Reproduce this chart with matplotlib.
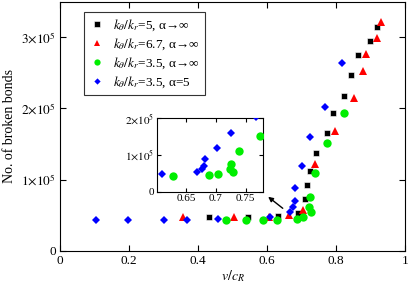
import matplotlib
matplotlib.use("Agg")
import matplotlib.pyplot as plt
from matplotlib.ticker import FuncFormatter

plt.rcParams['font.family'] = ['Liberation Serif', 'DejaVu Serif']
plt.rcParams['mathtext.fontset'] = 'stix'

# Data (v/c_R, number of broken bonds)
black_x = [0.432, 0.545, 0.632, 0.689, 0.709, 0.715, 0.725, 0.742, 0.773, 0.791, 0.822, 0.843, 0.865, 0.898, 0.920]
black_y = [0.469e5, 0.469e5, 0.487e5, 0.534e5, 0.72e5, 0.923e5, 1.12e5, 1.38e5, 1.66e5, 1.93e5, 2.17e5, 2.47e5, 2.758e5, 2.95e5, 3.146e5]

red_x = [0.355, 0.505, 0.607, 0.665, 0.703, 0.739, 0.797, 0.851, 0.879, 0.887, 0.919, 0.932]
red_y = [0.47e5, 0.475e5, 0.475e5, 0.50e5, 0.571e5, 1.213e5, 1.685e5, 2.15e5, 2.52e5, 2.77e5, 2.99e5, 3.216e5]

green_x = [0.481, 0.540, 0.589, 0.628, 0.688, 0.703, 0.728, 0.723, 0.725, 0.739, 0.775, 0.824]
green_y = [0.431e5, 0.431e5, 0.431e5, 0.435e5, 0.445e5, 0.473e5, 0.539e5, 0.618e5, 0.75e5, 1.096e5, 1.517e5, 1.93e5]

blue_x = [0.103, 0.197, 0.302, 0.368, 0.459, 0.609, 0.668, 0.676, 0.680, 0.681, 0.701, 0.726, 0.768, 0.817]
blue_y = [0.431e5, 0.431e5, 0.431e5, 0.431e5, 0.445e5, 0.469e5, 0.539e5, 0.618e5, 0.70e5, 0.885e5, 1.19e5, 1.60e5, 2.02e5, 2.632e5]

labels = [r'$k_\theta/k_r$=5, α→∞', r'$k_\theta/k_r$=6.7, α→∞',
          r'$k_\theta/k_r$=3.5, α→∞', r'$k_\theta/k_r$=3.5, α=5']

main_xticks = [0, 0.2, 0.4, 0.6, 0.8, 1.0]
main_xticklabels = ['0', '0.2', '0.4', '0.6', '0.8', '1']
main_yticks = [0, 1e5, 2e5, 3e5]
inset_xticks = [0.65, 0.7, 0.75]
inset_yticks = [0, 1e5, 2e5]


def sci(v, pos):
    if v == 0:
        return '0'
    m = int(round(v / 1e5))
    return r'$%d{\times}10^{5}$' % m


fig = plt.figure(figsize=(4.09, 2.86), dpi=100)
ax = fig.add_axes([0.147, 0.1234, 0.843, 0.8706])

ms_sq, ms_tri, ms_c, ms_d = 5.0, 5.5, 6.0, 5.0
ax.plot(black_x, black_y, 's', color='black', ms=ms_sq, mec='white', mew=0.4, label=labels[0], zorder=3)
ax.plot(red_x, red_y, '^', color='#ff0000', ms=ms_tri, mec='#ff0000', mew=0, label=labels[1], zorder=3)
ax.plot(green_x, green_y, 'o', color='#00ee00', ms=ms_c, mec='#00ee00', mew=0, label=labels[2], zorder=3)
ax.plot(blue_x, blue_y, 'D', color='#0000ff', ms=ms_d * 0.85, mec='#0000ff', mew=0, label=labels[3], zorder=4)

ax.set_xlim(0, 1)
ax.set_ylim(0, 3.5e5)
ax.set_xticks(main_xticks)
ax.set_xticklabels(main_xticklabels)
ax.set_yticks(main_yticks)
ax.yaxis.set_major_formatter(FuncFormatter(sci))
ax.tick_params(direction='in', top=True, right=True, length=4, labelsize=9.5, pad=3)
ax.set_xlabel(r'$v/c_R$', fontsize=10, labelpad=1)
ax.set_ylabel('No. of broken bonds', fontsize=10, labelpad=4)

leg = ax.legend(loc='upper left', bbox_to_anchor=(0.07, 0.957), borderaxespad=0,
                fancybox=False, edgecolor='#333333', fontsize=9.5, markerscale=0.75,
                handlelength=1.2, handletextpad=0.6, labelspacing=0.25, borderpad=0.4, framealpha=1)
leg.get_frame().set_linewidth(0.8)

ax.annotate('', xy=(0.597, 0.782e5), xytext=(0.652, 0.572e5),
            arrowprops=dict(arrowstyle='-|>', color='black', lw=1.0, mutation_scale=7))

ins = fig.add_axes([0.383, 0.330, 0.261, 0.257])
ins.plot(green_x, green_y, 'o', color='#00ee00', ms=ms_c, mew=0, zorder=3)
ins.plot(blue_x, blue_y, 'D', color='#0000ff', ms=ms_d * 0.85, mew=0, zorder=4)
ins.set_xlim(0.6, 0.78)
ins.set_ylim(0, 2e5)
ins.set_xticks(inset_xticks)
ins.set_xticklabels(['0.65', '0.7', '0.75'])
ins.set_yticks(inset_yticks)
ins.yaxis.set_major_formatter(FuncFormatter(sci))
ins.tick_params(direction='in', top=True, right=True, length=3, labelsize=8, pad=2)

fig.savefig('out.png', dpi=100)
